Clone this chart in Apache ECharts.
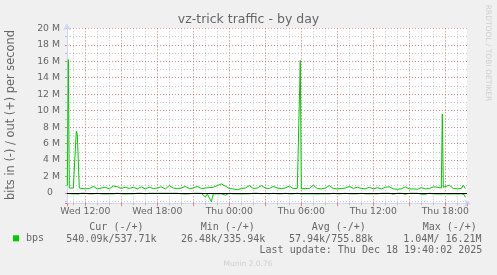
<!DOCTYPE html>
<html><head><meta charset="utf-8">
<script src="https://cdn.jsdelivr.net/npm/echarts@6/dist/echarts.min.js"></script>
<style>html,body{margin:0;padding:0;background:#F0F0F0;}#c{width:497px;height:275px;}</style>
</head><body><div id="c"></div>
<script>
const chartTitle = 'vz-trick traffic - by day';
const yAxisTitle = 'bits in (-) / out (+) per second';
const seriesName = 'bps';
const dayNames = ['Sun', 'Mon', 'Tue', 'Wed', 'Thu', 'Fri', 'Sat'];
// sample times: W = Wed Dec 17 2025, T = Thu Dec 18 2025
const times = [
 'W10:30','W10:35','W10:40','W10:50','W11:00','W11:10','W11:15','W11:20','W11:25','W11:30',
 'W11:40','W12:00','W12:20','W12:40','W13:00','W13:20','W13:40','W14:00','W14:20','W14:40',
 'W15:00','W15:20','W15:40','W16:00','W16:20','W16:40','W17:00','W17:20','W17:40','W18:00',
 'W18:20','W18:40','W19:00','W19:20','W19:40','W20:00','W20:20','W20:40','W21:00','W21:20',
 'W21:40','W22:00','W22:10','W22:20','W22:30','W22:40','W23:00','W23:20','W23:40','T00:00',
 'T00:20','T00:40','T01:00','T01:20','T01:40','T02:00','T02:20','T02:40','T03:00','T03:20',
 'T03:40','T04:00','T04:20','T04:40','T05:00','T05:20','T05:40','T05:50','T05:55','T06:00',
 'T06:20','T06:40','T07:00','T07:20','T07:40','T08:00','T08:20','T08:40','T09:00','T09:20',
 'T09:40','T10:00','T10:20','T10:40','T11:00','T11:20','T11:40','T12:00','T12:20','T12:40',
 'T13:00','T13:20','T13:40','T14:00','T14:20','T14:40','T15:00','T15:20','T15:40','T16:00',
 'T16:20','T16:40','T17:00','T17:20','T17:40','T17:45','T17:50','T18:00','T18:20','T18:40',
 'T19:00','T19:20','T19:30','T19:35','T19:40'
];
// out (+) in Mbit/s
const outMbps = [
 0.9,16.2,0.6,0.55,0.6,0.6,7.5,7.1,7.2,0.6,
 0.75,0.5,0.55,0.8,0.5,0.6,0.7,0.5,0.85,0.75,
 0.55,0.7,0.55,0.7,0.5,0.75,0.5,0.7,0.55,0.6,
 0.75,0.5,0.9,0.6,0.55,0.6,0.8,0.55,0.6,0.8,
 0.55,0.6,0.6,0.65,0.65,0.7,0.9,1.1,0.85,0.55,
 0.5,0.4,0.55,0.6,0.9,0.55,0.6,0.9,0.6,0.55,
 0.8,0.6,0.55,0.6,0.85,0.55,0.55,0.6,16.1,0.5,
 0.55,0.55,0.95,0.55,0.5,0.6,0.9,0.55,0.5,0.55,
 0.6,0.8,0.55,0.7,0.55,0.5,0.7,0.5,0.65,0.5,
 0.7,0.75,0.5,0.45,0.5,0.75,0.5,0.5,0.45,0.65,
 0.5,0.55,0.75,0.7,0.6,9.6,0.7,0.85,0.95,0.55,
 0.5,0.55,0.95,0.9,0.54
];
// in (-) in Mbit/s, drawn below zero
const inMbps = [
 0.05,0.1,0.1,0.1,0.12,0.1,0.1,0.1,0.12,0.1,
 0.03,0.03,0.1,0.1,0.03,0.1,0.12,0.1,0.1,0.03,
 0.1,0.12,0.1,0.1,0.03,0.03,0.1,0.03,0.03,0.03,
 0.03,0.03,0.03,0.03,0.03,0.1,0.12,0.1,0.03,0.03,
 0.03,0.5,0.12,0.15,1.04,0.12,0.1,0.1,0.25,0.03,
 0.1,0.1,0.12,0.1,0.1,0.03,0.03,0.1,0.03,0.1,
 0.03,0.1,0.1,0.03,0.1,0.1,0.03,0.03,0.1,0.1,
 0.1,0.1,0.1,0.12,0.1,0.1,0.1,0.03,0.1,0.1,
 0.03,0.1,0.1,0.1,0.03,0.1,0.1,0.1,0.1,0.03,
 0.03,0.03,0.15,0.03,0.03,0.15,0.03,0.03,0.03,0.15,
 0.15,0.03,0.1,0.12,0.12,0.1,0.12,0.1,0.12,0.1,
 0.12,0.1,0.12,0.2,0.54
];
const legendHeaders = ['Cur (-/+)', 'Min (-/+)', 'Avg (-/+)', 'Max (-/+)'];
const legendValues = ['540.09k/537.71k', '26.48k/335.94k', '57.94k/755.88k', '1.04M/ 16.21M'];
const lastUpdate = 'Last update: Thu Dec 18 19:40:02 2025';
const sideText = 'RRDTOOL / TOBI OETIKER';
const footerText = 'Munin 2.0.76';

const DAY = {W: 17, T: 18};
const HOUR = 3600000;
function toTime(s) { return Date.UTC(2025, 11, DAY[s[0]], +s.slice(1, 3), +s.slice(4, 6)); }
const X_MIN = Date.UTC(2025, 11, 17, 10, 28, 30);
const X_MAX = X_MIN + 400 * 300000;
const Y_MIN = -1.25, Y_MAX = 20;

const outData = times.map((t, i) => [toTime(t), outMbps[i]]);
const inData = times.map((t, i) => [toTime(t), -inMbps[i]]);

const FONT = '#666';
const MGRID = 'rgba(225,80,80,0.55)';
const GRID = 'rgba(150,150,150,0.5)';
const AXIS = '#CFD6F8';
const GREEN = '#00CC00';
const SANS = 'DejaVu Sans';
const MONO = 'DejaVu Sans Mono';

function fmtX(v) {
  const d = new Date(v);
  if (d.getUTCMinutes() !== 0 || d.getUTCSeconds() !== 0 || d.getUTCHours() % 6 !== 0) return '';
  return dayNames[d.getUTCDay()] + ' ' + String(d.getUTCHours()).padStart(2, '0') + ':00';
}
function fmtY(v) {
  if (Math.abs(v) < 1e-9) return '{z|0}';
  if (v > 0 && Math.abs(v / 2 - Math.round(v / 2)) < 1e-9) return Math.round(v) + ' M';
  return '';
}

const colX = [89.3, 200.7, 311.7, 422.7];
const colV = [66.3, 181, 289, 403.3];
const graphics = [
  {type: 'text', x: 11, y: 115, rotation: Math.PI / 2, style: {text: yAxisTitle, font: '11.4px "DejaVu Sans"', fill: FONT, textAlign: 'center', textVerticalAlign: 'middle'}},
  {type: 'text', x: 487.5, y: 53, rotation: -Math.PI / 2, style: {text: sideText, font: '7.5px "DejaVu Sans"', fill: '#cfcfcf', textAlign: 'center', textVerticalAlign: 'middle'}},
  {type: 'text', x: 248, y: 264.3, style: {text: footerText, font: '7.5px "DejaVu Sans"', fill: '#cfcfcf', textAlign: 'center', textVerticalAlign: 'middle'}},
  {type: 'text', x: 482.3, y: 250.7, style: {text: lastUpdate, font: '10px "DejaVu Sans Mono"', fill: FONT, textAlign: 'right', textVerticalAlign: 'middle'}}
];
legendHeaders.forEach((h, i) => graphics.push({type: 'text', x: colX[i], y: 227.3, style: {text: h, font: '10px "DejaVu Sans Mono"', fill: FONT, textAlign: 'left', textVerticalAlign: 'middle'}}));
legendValues.forEach((h, i) => graphics.push({type: 'text', x: colV[i], y: 239, style: {text: h, font: '10px "DejaVu Sans Mono"', fill: FONT, textAlign: 'left', textVerticalAlign: 'middle'}}));

const chart = echarts.init(document.getElementById('c'), null, {renderer: 'canvas'});
chart.setOption({
  backgroundColor: '#F0F0F0',
  animation: false,
  title: {text: chartTitle, left: 'center', top: 11.8, padding: 0,
    textStyle: {fontFamily: SANS, fontSize: 12.5, fontWeight: 'normal', color: FONT, lineHeight: 15}},
  legend: {data: [seriesName], left: 13, top: 233.3, padding: 0, itemWidth: 6, itemHeight: 6, icon: 'rect',
    selectedMode: false, textStyle: {fontFamily: MONO, fontSize: 10, color: FONT, padding: [0, 0, 0, 2]}},
  grid: {left: 67, top: 28.3, width: 400, height: 175, show: true, backgroundColor: '#fff', borderWidth: 0},
  xAxis: [
    {type: 'value', min: X_MIN, max: X_MAX, splitNumber: 34, minInterval: HOUR, maxInterval: HOUR,
      axisLine: {onZero: false, lineStyle: {color: AXIS, width: 1}, symbol: ['none', 'arrow'], symbolSize: [6, 7], symbolOffset: [0, 4]},
      axisTick: {show: true, length: 2, lineStyle: {color: GRID}},
      axisLabel: {interval: 0, margin: 4, color: FONT, fontFamily: SANS, fontSize: 9.3, formatter: fmtX},
      splitLine: {show: true, showMinLine: false, showMaxLine: false, lineStyle: {color: GRID, type: [1, 2], width: 1}}},
    {type: 'value', min: X_MIN, max: X_MAX, splitNumber: 12, minInterval: 3 * HOUR, maxInterval: 3 * HOUR, position: 'bottom', z: 1,
      axisLine: {show: false, onZero: false}, axisTick: {show: true, length: 3, lineStyle: {color: MGRID}}, axisLabel: {show: false},
      splitLine: {show: true, showMinLine: false, showMaxLine: false, lineStyle: {color: MGRID, type: [1, 2], width: 1}}}
  ],
  yAxis: [
    {type: 'value', min: Y_MIN, max: Y_MAX, splitNumber: 11, minInterval: 2, maxInterval: 2, position: 'left', z: 1,
      axisLine: {show: true, onZero: false, lineStyle: {color: AXIS, width: 1}, symbol: ['none', 'arrow'], symbolSize: [6, 7], symbolOffset: [0, 5]},
      axisTick: {show: true, length: 2, lineStyle: {color: MGRID}},
      axisLabel: {interval: 0, margin: 7, color: FONT, fontFamily: SANS, fontSize: 9.3, formatter: fmtY, rich: {z: {padding: [0, 7, 0, 0], fontFamily: SANS, fontSize: 9.3, color: FONT}}},
      splitLine: {show: true, showMinLine: false, showMaxLine: true, lineStyle: {color: MGRID, type: [1, 2], width: 1}}},
    {type: 'value', min: Y_MIN, max: Y_MAX, splitNumber: 22, minInterval: 1, maxInterval: 1, position: 'left',
      axisLine: {show: false, onZero: false}, axisTick: {show: true, length: 2, lineStyle: {color: GRID}}, axisLabel: {show: false},
      splitLine: {show: true, showMinLine: false, showMaxLine: false, lineStyle: {color: GRID, type: [1, 2], width: 1}}}
  ],
  graphic: graphics,
  series: [
    {name: seriesName, type: 'line', xAxisIndex: 0, yAxisIndex: 0, data: outData, showSymbol: false, silent: true,
      lineStyle: {color: GREEN, width: 1}, itemStyle: {color: GREEN}},
    {name: seriesName, type: 'line', xAxisIndex: 0, yAxisIndex: 0, data: inData, showSymbol: false, silent: true,
      lineStyle: {color: GREEN, width: 1}, itemStyle: {color: GREEN},
      markLine: {silent: true, symbol: 'none', label: {show: false}, lineStyle: {color: '#000', width: 1, type: 'solid'}, data: [{yAxis: 0}]}}
  ]
});
</script></body></html>
